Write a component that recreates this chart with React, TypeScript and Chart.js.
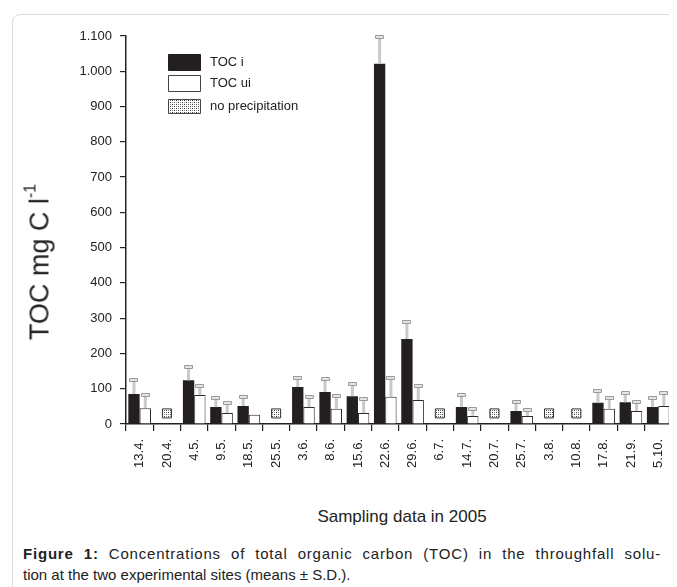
import React, { useEffect, useRef } from "react";
import { Chart, registerables } from "chart.js";

Chart.register(...registerables);

// Sampling dates (2005)
const dates = [
  "13.4.", "20.4.", "4.5.", "9.5.", "18.5.", "25.5.", "3.6.", "8.6.", "15.6.", "22.6.",
  "29.6.", "6.7.", "14.7.", "20.7.", "25.7.", "3.8.", "10.8.", "17.8.", "21.9.", "5.10.",
];

// TOC i (mg C l-1) and its standard deviation
const tocI = [85, null, 124, 48, 51, null, 105, 91, 79, 1021, 241, null, 48, null, 37, null, null, 60, 62, 48];
const tocISd = [40, null, 38, 26, 28, null, 28, 39, 37, 79, 51, null, 37, null, 28, null, null, 34, 26, 26];

// TOC ui (mg C l-1) and its standard deviation
const tocUi = [45, null, 82, 31, 26, null, 48, 43, 31, 77, 68, null, 23, null, 23, null, null, 43, 37, 51];
const tocUiSd = [40, null, 28, 29, null, null, 29, 39, 40, 56, 40, null, 20, null, 17, null, null, 31, 28, 37];

// Dates without precipitation, shown as a marker
const noPrecip = [null, 30, null, null, null, 30, null, null, null, null, null, 30, null, 30, null, 30, 30, null, null, null];

// Y axis range
const yMin = 0;
const yMax = 1100;
const yStep = 100;

const legendItems = ["TOC i", "TOC ui", "no precipitation"];

const FONT = "Arial, 'Liberation Sans', sans-serif";
const INK = "#231f20";

function makeStipple(): CanvasPattern | string {
  const tile = document.createElement("canvas");
  tile.width = 4;
  tile.height = 4;
  const c = tile.getContext("2d");
  if (!c) return "#bbb";
  c.fillStyle = "#ffffff";
  c.fillRect(0, 0, 4, 4);
  c.fillStyle = "#3a3a3a";
  c.fillRect(0, 0, 1, 1);
  c.fillRect(2, 2, 1, 1);
  c.fillStyle = "#8a8a8a";
  c.fillRect(2, 0, 1, 1);
  c.fillRect(0, 2, 1, 1);
  const p = c.createPattern(tile, "repeat");
  return p || "#bbb";
}

function formatTick(v: number): string {
  if (v >= 1000) {
    return Math.floor(v / 1000) + "." + String(v % 1000).padStart(3, "0");
  }
  return String(v);
}

export default function App() {
  const canvasRef = useRef<HTMLCanvasElement | null>(null);

  useEffect(() => {
    const canvas = canvasRef.current;
    if (!canvas) return;
    const stipple = makeStipple();

    const errorBars = {
      id: "errorBars",
      afterDatasetsDraw(chart: any) {
        const ctx = chart.ctx;
        const y = chart.scales.y;
        const sets: [number, (number | null)[], (number | null)[]][] = [
          [0, tocI, tocISd],
          [1, tocUi, tocUiSd],
        ];
        ctx.save();
        for (const [idx, vals, sds] of sets) {
          const meta = chart.getDatasetMeta(idx);
          meta.data.forEach((el: any, i: number) => {
            const v = vals[i];
            const sd = sds[i];
            if (v == null || sd == null) return;
            const x = el.x;
            const top = y.getPixelForValue(v);
            const ey = y.getPixelForValue(v + sd);
            ctx.strokeStyle = "#c9c9c9";
            ctx.lineWidth = 3;
            ctx.beginPath();
            ctx.moveTo(x, top);
            ctx.lineTo(x, ey);
            ctx.stroke();
            ctx.fillStyle = "#e4e4e4";
            ctx.strokeStyle = "#9a9a9a";
            ctx.lineWidth = 1;
            ctx.beginPath();
            ctx.rect(Math.round(x - 4.5) + 0.5, Math.round(ey - 1.5) + 0.5, 8, 3);
            ctx.fill();
            ctx.stroke();
          });
        }
        ctx.restore();
      },
    };

    const legendBox = {
      id: "legendBox",
      afterDraw(chart: any) {
        const ctx = chart.ctx;
        ctx.save();
        const bx = 160;
        const rows = [
          { y: 46, h: 16 },
          { y: 67, h: 16 },
          { y: 91, h: 14 },
        ];
        rows.forEach((r, i) => {
          ctx.beginPath();
          ctx.rect(bx + 0.5, r.y + 0.5, 32, r.h);
          if (i === 0) ctx.fillStyle = INK;
          else if (i === 1) ctx.fillStyle = "#ffffff";
          else ctx.fillStyle = stipple as any;
          ctx.fill();
          ctx.strokeStyle = i === 0 ? INK : "#444";
          ctx.lineWidth = 1;
          ctx.stroke();
          ctx.fillStyle = "#222";
          ctx.font = `13px ${FONT}`;
          ctx.textBaseline = "middle";
          ctx.textAlign = "left";
          ctx.fillText(legendItems[i], 202, r.y + r.h / 2 + 0.5);
        });
        ctx.restore();
      },
    };

    const chart = new Chart(canvas, {
      type: "bar",
      data: {
        labels: dates,
        datasets: [
          {
            label: legendItems[0],
            data: tocI as any,
            backgroundColor: INK,
            borderColor: INK,
            borderWidth: 0,
            categoryPercentage: 0.83,
            barPercentage: 1.0,
          },
          {
            label: legendItems[1],
            data: tocUi as any,
            backgroundColor: "#ffffff",
            borderColor: "#2a2a2a",
            borderWidth: 1,
            categoryPercentage: 0.83,
            barPercentage: 1.0,
          },
          {
            type: "line",
            label: legendItems[2],
            data: noPrecip as any,
            showLine: false,
            pointStyle: "rect",
            pointRadius: 6.4,
            pointBackgroundColor: stipple as any,
            pointBorderColor: "#333",
            pointBorderWidth: 1,
          } as any,
        ],
      },
      options: {
        responsive: false,
        animation: false,
        events: [],
        layout: { padding: { top: 28, left: 0, right: 0, bottom: 0 } },
        plugins: {
          legend: { display: false },
          tooltip: { enabled: false },
          title: { display: false },
        },
        scales: {
          x: {
            type: "category",
            offset: true,
            afterFit(scale: any) {
              scale.height = 64;
            },
            grid: {
              offset: true,
              drawOnChartArea: false,
              drawTicks: true,
              tickLength: 7,
              color: "#222",
              lineWidth: 1.2,
            },
            border: { color: "#222", width: 1.5 },
            ticks: {
              autoSkip: false,
              minRotation: 90,
              maxRotation: 90,
              padding: 8,
              color: "#222",
              font: { size: 13, family: FONT },
            },
          },
          y: {
            min: yMin,
            max: yMax,
            afterFit(scale: any) {
              scale.width = 118;
            },
            grid: {
              drawOnChartArea: false,
              drawTicks: true,
              tickLength: 6,
              color: "#222",
              lineWidth: 1.2,
            },
            border: { color: "#222", width: 1.5 },
            ticks: {
              stepSize: yStep,
              padding: 8,
              color: "#222",
              font: { size: 13, family: FONT },
              callback: (v: any) => formatTick(Number(v)),
            },
          },
        },
      },
      plugins: [errorBars, legendBox],
    });

    return () => chart.destroy();
  }, []);

  return (
    <div
      style={{
        position: "relative",
        width: 669,
        height: 579,
        overflow: "hidden",
        fontFamily: FONT,
        color: "#222",
      }}
    >
      <div
        style={{
          position: "absolute",
          left: 4,
          top: 6,
          width: 720,
          height: 700,
          border: "1.5px solid #dcdcdc",
          borderRadius: 8,
          boxSizing: "border-box",
        }}
      />
      <canvas
        ref={canvasRef}
        width={674}
        height={480}
        style={{ position: "absolute", left: 0, top: 0, width: 674, height: 480 }}
      />
      <div
        style={{
          position: "absolute",
          left: 32,
          top: 254,
          transform: "translate(-50%, -50%) rotate(-90deg)",
          whiteSpace: "nowrap",
          fontSize: 27,
          lineHeight: 1,
        }}
      >
        TOC mg C l<sup style={{ fontSize: 16, verticalAlign: "top", position: "relative", top: -4 }}>-1</sup>
      </div>
      <div
        style={{
          position: "absolute",
          left: 394,
          top: 509,
          transform: "translate(-50%, -50%)",
          whiteSpace: "nowrap",
          fontSize: 17,
        }}
      >
        Sampling data in 2005
      </div>
      <div
        style={{
          position: "absolute",
          left: 15,
          top: 535,
          fontSize: 15,
          lineHeight: "21px",
          color: "#222",
        }}
      >
        <div
          style={{
            width: 638,
            textAlign: "justify",
            textAlignLast: "justify",
            whiteSpace: "nowrap",
            letterSpacing: 0.8,
          }}
        >
          <b>Figure 1:</b> Concentrations of total organic carbon (TOC) in the throughfall solu-
        </div>
        <div style={{ whiteSpace: "nowrap" }}>tion at the two experimental sites (means ± S.D.).</div>
      </div>
    </div>
  );
}
